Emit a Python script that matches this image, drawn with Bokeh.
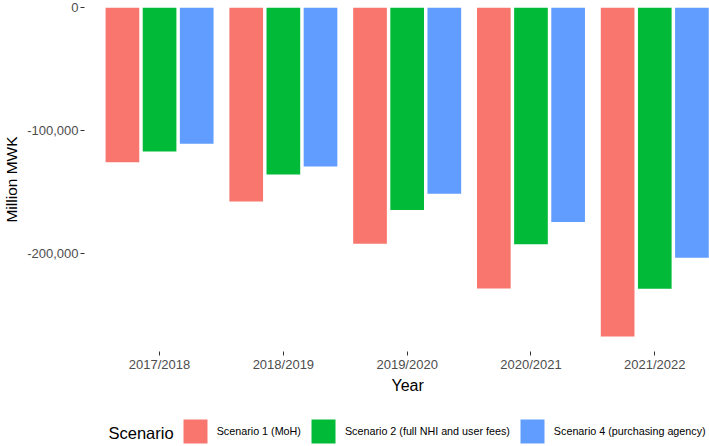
from bokeh.plotting import figure
from bokeh.layouts import column
from bokeh.models import (ColumnDataSource, Range1d, FixedTicker, NumeralTickFormatter,
                          Legend, LegendItem, Label)
from bokeh.transform import dodge
from bokeh.embed import file_html
from bokeh.resources import INLINE

# ---- data ----
years = ["2017/2018", "2018/2019", "2019/2020", "2020/2021", "2021/2022"]
scenario_names = ["Scenario 1 (MoH)", "Scenario 2 (full NHI and user fees)",
                  "Scenario 4 (purchasing agency)"]
s1 = [-125700, -157600, -192000, -228400, -267500]
s2 = [-117000, -135700, -164600, -192500, -228600]
s4 = [-110800, -129200, -151400, -174300, -203400]
y_ticks = [-200000, -100000, 0]
x_title = "Year"
y_title = "Million MWK"
legend_title = "Scenario"

colors = ["#F8766D", "#00BA38", "#619CFF"]
FONT = "Liberation Sans"
LEFT = 82
W = 709

xpos = [i + 1 for i in range(len(years))]
src = ColumnDataSource(dict(x=xpos, s1=s1, s2=s2, s4=s4))

p = figure(width=W, height=374, output_backend="svg", toolbar_location=None,
           x_range=Range1d(0.3937, 5.442), y_range=Range1d(-279595, 0),
           min_border_left=LEFT, min_border_right=0, min_border_top=7,
           min_border_bottom=22)
p.outline_line_color = None
p.xgrid.grid_line_color = None
p.ygrid.grid_line_color = None
p.background_fill_color = "white"

for col, off, c in zip(["s1", "s2", "s4"], [-0.3, 0.0, 0.3], colors):
    p.vbar(x=dodge("x", off), top=0, bottom=col, width=0.272, source=src,
           fill_color=c, line_color=None)

# axes
p.xaxis.ticker = FixedTicker(ticks=xpos)
p.xaxis.major_label_overrides = {x: y for x, y in zip(xpos, years)}
p.yaxis.ticker = FixedTicker(ticks=y_ticks)
p.yaxis.formatter = NumeralTickFormatter(format="0,0")
for ax in (p.xaxis, p.yaxis):
    ax.axis_line_color = None
    ax.major_tick_line_color = "#333333"
    ax.major_tick_line_width = 1
    ax.major_tick_out = 4
    ax.major_tick_in = 0
    ax.minor_tick_line_color = None
    ax.major_label_text_font = FONT
    ax.major_label_text_font_size = "13px"
    ax.major_label_text_color = "#4D4D4D"
    ax.axis_label_text_font = FONT
    ax.axis_label_text_font_size = "15.5px"
    ax.axis_label_text_font_style = "normal"
    ax.axis_label_text_color = "black"
p.yaxis.axis_label = y_title
p.xaxis.major_label_standoff = 1
p.yaxis.major_label_standoff = 2
p.yaxis.axis_label_standoff = 4

# strip below the chart: x-axis title and legend
lg = figure(width=W, height=72, output_backend="svg", toolbar_location=None,
            x_axis_location=None, y_axis_location=None,
            x_range=Range1d(0, 1), y_range=Range1d(1, 2),
            min_border_left=LEFT, min_border_right=0, min_border_top=0,
            min_border_bottom=0)
lg.outline_line_color = None
lg.xgrid.grid_line_color = None
lg.ygrid.grid_line_color = None
items = []
for col, name, c in zip(["s1", "s2", "s4"], scenario_names, colors):
    r = lg.vbar(x="x", top=0, bottom=col, width=0.3, source=src,
                fill_color=c, line_color=None)
    items.append(LegendItem(label=name, renderers=[r]))
legend = Legend(items=items, orientation="horizontal", location=(95.7, 0),
                glyph_width=30, glyph_height=30, label_standoff=7, spacing=7,
                padding=0, margin=0, border_line_color=None,
                background_fill_alpha=0, label_text_font=FONT,
                label_text_font_size="10.75px", label_text_color="black",
                label_height=20)
lg.add_layout(legend)
lg.add_layout(Label(x=24, y=14, x_units="screen", y_units="screen",
                    text=legend_title, text_font=FONT, text_font_size="16.5px",
                    text_baseline="middle", text_align="left", text_color="black"))
lg.add_layout(Label(x=307, y=60.7, x_units="screen", y_units="screen",
                    text=x_title, text_font=FONT, text_font_size="16px",
                    text_baseline="middle", text_align="left", text_color="black"))

layout = column(p, lg, spacing=0)
open("out.html", "w").write(file_html(layout, INLINE))
